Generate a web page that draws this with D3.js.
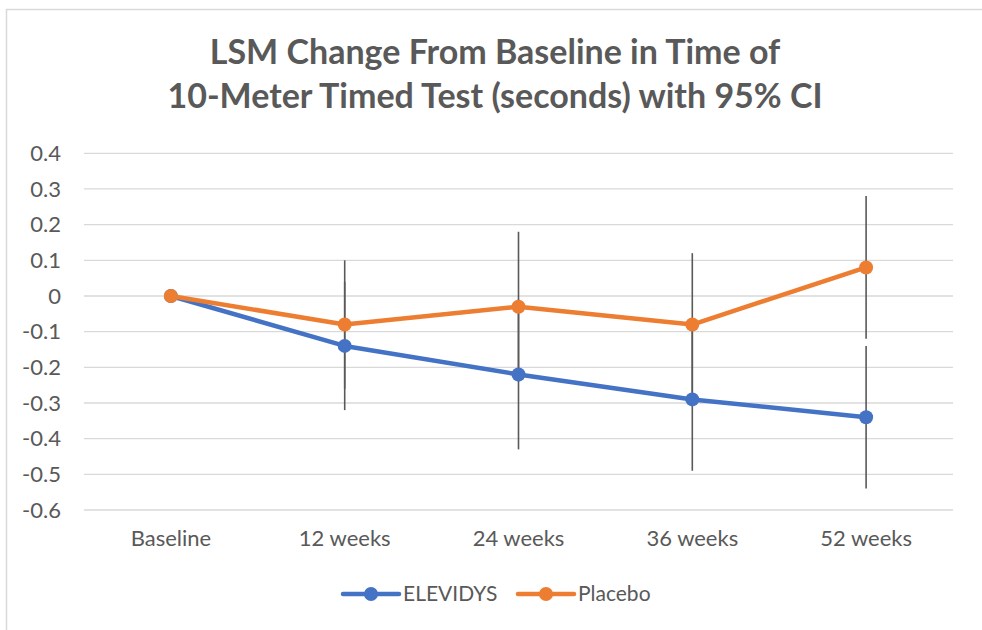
<!DOCTYPE html>
<html>
<head>
<meta charset="utf-8">
<style>
  body { margin: 0; background: #fff; }
  text { font-family: Lato, "Open Sans", sans-serif; fill: #595959; }
  .title { font-weight: bold; text-anchor: middle; }
  .grid line { stroke: #d9d9d9; stroke-width: 1.3; }
  .axis path, .axis line { display: none; }
</style>
</head>
<body>
<svg id="chart"></svg>
<script src="https://d3js.org/d3.v7.min.js"></script>
<script>

var categories = ["Baseline", "12 weeks", "24 weeks", "36 weeks", "52 weeks"];
var elevidys = [0, -0.14, -0.22, -0.29, -0.34];
var elevidysLow = [null, -0.32, -0.43, -0.49, -0.54];
var elevidysHigh = [null, 0.04, -0.01, -0.09, -0.14];
var placebo = [0, -0.08, -0.03, -0.08, 0.08];
var placeboLow = [null, -0.26, -0.24, -0.28, -0.12];
var placeboHigh = [null, 0.10, 0.18, 0.12, 0.28];
var yTicks = [0.4, 0.3, 0.2, 0.1, 0, -0.1, -0.2, -0.3, -0.4, -0.5, -0.6];
var titleLines = ["LSM Change From Baseline in Time of", "10-Meter Timed Test (seconds) with 95% CI"];

var series = [
  { name: "ELEVIDYS", color: "#4472c4", values: elevidys, low: elevidysLow, high: elevidysHigh },
  { name: "Placebo", color: "#ed7d31", values: placebo, low: placeboLow, high: placeboHigh }
];

var width = 982, height = 630;
var plotLeft = 84, plotRight = 953, plotTop = 153.3, plotBottom = 510;

var svg = d3.select("#chart").attr("width", width).attr("height", height);

// outer chart border (cut off at right and bottom like the screenshot)
svg.append("path")
  .attr("d", "M6.5," + (height + 5) + "V9.5H" + (width + 5))
  .attr("fill", "none").attr("stroke", "#d9d9d9").attr("stroke-width", 1.5);

svg.selectAll(".title").data(titleLines).enter().append("text")
  .attr("class", "title")
  .attr("x", 495)
  .attr("y", (d, i) => 64 + i * 44)
  .style("font-size", "34px")
  .text(d => d);

var x = d3.scaleBand().domain(categories).range([plotLeft, plotRight]);
var y = d3.scaleLinear().domain([-0.6, 0.4]).range([plotBottom, plotTop]);

svg.append("g").attr("class", "grid")
  .selectAll("line").data(yTicks).enter().append("line")
  .attr("x1", plotLeft).attr("x2", plotRight)
  .attr("y1", d => y(d)).attr("y2", d => y(d));

svg.append("g").attr("class", "axis")
  .attr("transform", "translate(" + (plotLeft - 23) + ",0)")
  .call(d3.axisLeft(y).tickValues(yTicks).tickSize(0).tickPadding(0).tickFormat(d => String(+d.toFixed(1))));

svg.append("g").attr("class", "axis")
  .attr("transform", "translate(0," + plotBottom + ")")
  .call(d3.axisBottom(x).tickSize(0).tickPadding(20));

svg.selectAll(".axis text")
  .style("font-family", "Lato, sans-serif")
  .style("fill", "#595959")
  .style("font-size", "22px");

var cx = d => x(d) + x.bandwidth() / 2;

// error bars
series.forEach(function(s) {
  svg.append("g").selectAll("line")
    .data(categories.filter((c, i) => s.low[i] !== null))
    .enter().append("line")
    .attr("x1", cx).attr("x2", cx)
    .attr("y1", c => y(s.low[categories.indexOf(c)]))
    .attr("y2", c => y(s.high[categories.indexOf(c)]))
    .attr("stroke", "#595959").attr("stroke-width", 1.6);
});

var line = d3.line().x((d, i) => cx(categories[i])).y(d => y(d));

series.forEach(function(s) {
  var g = svg.append("g");
  g.append("path").datum(s.values)
    .attr("d", line).attr("fill", "none")
    .attr("stroke", s.color).attr("stroke-width", 4.5).attr("stroke-linejoin", "round");
  g.selectAll("circle").data(s.values).enter().append("circle")
    .attr("cx", (d, i) => cx(categories[i])).attr("cy", d => y(d))
    .attr("r", 7).attr("fill", s.color);
});

// legend
var legendX = [343, 518];
var legend = svg.selectAll(".legend").data(series).enter().append("g")
  .attr("transform", (d, i) => "translate(" + legendX[i] + ",594)");
legend.append("line").attr("x1", 0).attr("x2", 56)
  .attr("stroke", d => d.color).attr("stroke-width", 4.5).attr("stroke-linecap", "round");
legend.append("circle").attr("cx", 28).attr("r", 7).attr("fill", d => d.color);
legend.append("text").attr("x", 60).attr("dy", "0.35em")
  .style("font-size", "21px").text(d => d.name);

</script>
</body>
</html>
